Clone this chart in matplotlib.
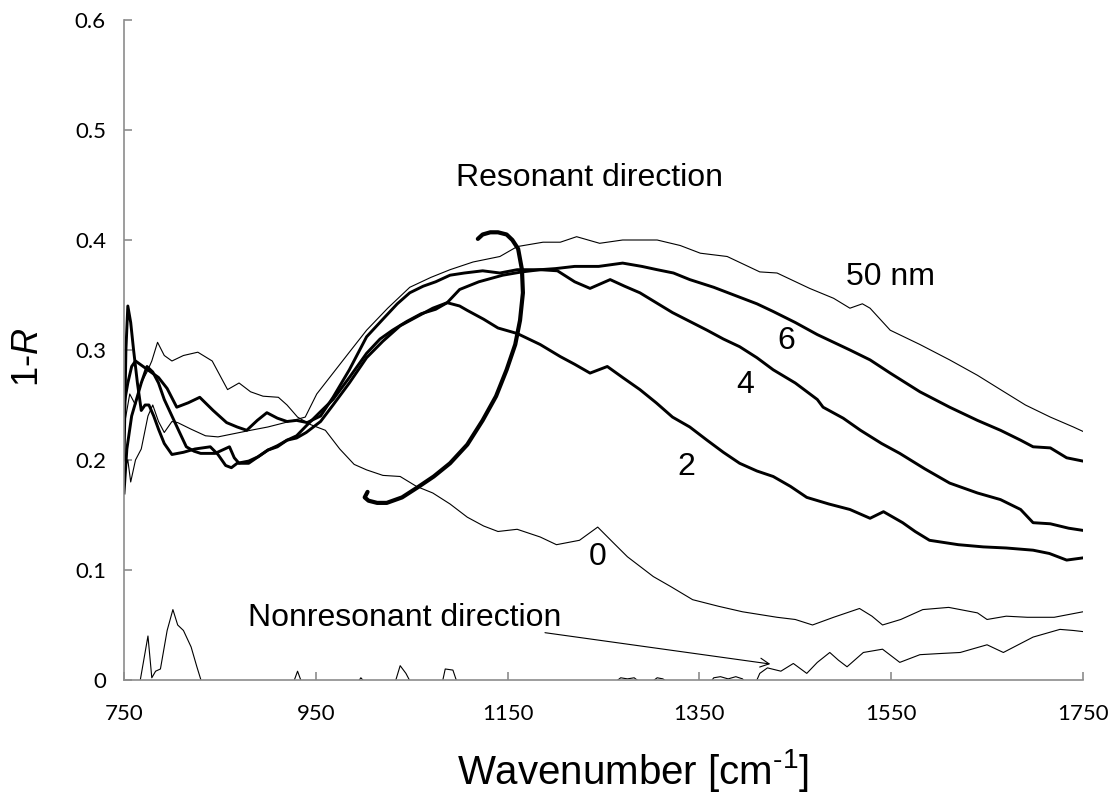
import matplotlib
matplotlib.use("Agg")
from matplotlib import pyplot as plt

# 1-R spectra
x_50 = [750, 754, 757, 762, 768, 775, 780, 786, 792, 800, 806, 820, 835, 848, 865, 882, 900, 918, 939, 951,
        968, 985, 1003, 1025, 1048, 1070, 1090, 1114, 1142, 1160, 1187, 1205, 1222, 1246, 1270, 1306, 1330,
        1351, 1379, 1413, 1431, 1465, 1490, 1507, 1520, 1528, 1549, 1580, 1611, 1640, 1664, 1690, 1716, 1740, 1750]
y_50 = [0.19, 0.2, 0.18, 0.2, 0.21, 0.24, 0.25, 0.235, 0.225, 0.235, 0.234, 0.228, 0.222, 0.221, 0.224, 0.227,
        0.23, 0.234, 0.239, 0.26, 0.279, 0.298, 0.318, 0.338, 0.357, 0.366, 0.373, 0.380, 0.385, 0.394, 0.398,
        0.398, 0.403, 0.397, 0.400, 0.400, 0.395, 0.388, 0.385, 0.371, 0.370, 0.356, 0.347, 0.338, 0.342, 0.338,
        0.318, 0.305, 0.291, 0.277, 0.264, 0.25, 0.239, 0.23, 0.226]

x_6 = [750, 754, 758, 762, 770, 778, 786, 795, 805, 817, 829, 843, 857, 868, 878, 889, 899, 910, 920, 930, 941,
       955, 968, 985, 1003, 1020, 1035, 1048, 1062, 1075, 1090, 1105, 1124, 1142, 1160, 1184, 1200, 1220, 1245,
       1270, 1290, 1306, 1323, 1340, 1365, 1392, 1410, 1427, 1450, 1473, 1490, 1507, 1528, 1549, 1580, 1611,
       1640, 1664, 1685, 1698, 1716, 1733, 1750]
y_6 = [0.25, 0.27, 0.285, 0.29, 0.285, 0.28, 0.275, 0.265, 0.248, 0.252, 0.257, 0.245, 0.234, 0.23, 0.227,
       0.236, 0.243, 0.238, 0.235, 0.236, 0.234, 0.24, 0.257, 0.282, 0.312, 0.328, 0.342, 0.352, 0.358, 0.362,
       0.368, 0.37, 0.372, 0.37, 0.373, 0.373, 0.374, 0.376, 0.376, 0.379, 0.376, 0.373, 0.37, 0.364, 0.357,
       0.348, 0.342, 0.335, 0.325, 0.314, 0.307, 0.300, 0.291, 0.279, 0.262, 0.248, 0.236, 0.227, 0.218, 0.212,
       0.211, 0.202, 0.199]

x_4 = [750, 752, 754, 757, 760, 764, 768, 772, 776, 781, 786, 792, 800, 812, 824, 840, 848, 856, 862, 868, 880,
       890, 900, 910, 920, 930, 940, 955, 968, 985, 1003, 1017, 1030, 1045, 1060, 1075, 1087, 1100, 1120, 1145,
       1165, 1184, 1202, 1220, 1236, 1257, 1272, 1288, 1305, 1322, 1340, 1358, 1375, 1392, 1410, 1427, 1450,
       1473, 1479, 1500, 1518, 1540, 1559, 1585, 1611, 1640, 1664, 1685, 1698, 1716, 1735, 1750]
y_4 = [0.20, 0.30, 0.34, 0.325, 0.30, 0.27, 0.245, 0.25, 0.25, 0.24, 0.228, 0.215, 0.205, 0.207, 0.21, 0.212,
       0.205, 0.195, 0.193, 0.197, 0.199, 0.203, 0.209, 0.213, 0.218, 0.222, 0.231, 0.244, 0.255, 0.275, 0.297,
       0.31, 0.318, 0.326, 0.333, 0.337, 0.343, 0.355, 0.362, 0.368, 0.371, 0.373, 0.372, 0.362, 0.356, 0.364,
       0.358, 0.352, 0.343, 0.334, 0.326, 0.318, 0.31, 0.303, 0.293, 0.282, 0.27, 0.255, 0.248, 0.238, 0.227,
       0.215, 0.206, 0.192, 0.179, 0.17, 0.164, 0.155, 0.143, 0.142, 0.138, 0.136]

x_2 = [750, 753, 758, 763, 768, 774, 780, 786, 792, 800, 808, 815, 823, 830, 845, 855, 860, 865, 870, 880, 890,
       900, 910, 920, 930, 940, 955, 968, 985, 1003, 1020, 1038, 1055, 1072, 1087, 1100, 1108, 1125, 1140, 1160,
       1184, 1205, 1220, 1236, 1254, 1270, 1288, 1305, 1322, 1340, 1358, 1375, 1392, 1410, 1427, 1445, 1462,
       1485, 1507, 1528, 1542, 1562, 1575, 1590, 1620, 1646, 1670, 1698, 1715, 1733, 1750]
y_2 = [0.17, 0.21, 0.24, 0.255, 0.27, 0.285, 0.28, 0.27, 0.255, 0.24, 0.225, 0.212, 0.208, 0.206, 0.206, 0.21,
       0.212, 0.202, 0.197, 0.197, 0.203, 0.209, 0.212, 0.218, 0.22, 0.225, 0.235, 0.25, 0.27, 0.293, 0.308,
       0.322, 0.33, 0.338, 0.343, 0.34, 0.336, 0.328, 0.32, 0.315, 0.305, 0.294, 0.287, 0.279, 0.285, 0.275,
       0.264, 0.252, 0.239, 0.23, 0.218, 0.207, 0.197, 0.19, 0.185, 0.176, 0.166, 0.16, 0.155, 0.147, 0.153,
       0.143, 0.135, 0.127, 0.123, 0.121, 0.12, 0.118, 0.115, 0.109, 0.111]

x_0 = [750, 756, 762, 768, 774, 779, 785, 792, 800, 812, 827, 842, 858, 870, 882, 895, 911, 920, 931, 945, 960,
       975, 990, 1003, 1020, 1038, 1055, 1072, 1090, 1108, 1125, 1140, 1160, 1184, 1201, 1225, 1244, 1260, 1275,
       1302, 1320, 1343, 1370, 1395, 1431, 1450, 1468, 1490, 1517, 1530, 1541, 1560, 1583, 1610, 1640, 1650,
       1670, 1692, 1720, 1750]
y_0 = [0.23, 0.26, 0.25, 0.27, 0.28, 0.29, 0.307, 0.295, 0.29, 0.295, 0.298, 0.29, 0.264, 0.27, 0.262, 0.258,
       0.257, 0.25, 0.239, 0.232, 0.227, 0.21, 0.196, 0.191, 0.186, 0.185, 0.176, 0.170, 0.160, 0.148, 0.14,
       0.135, 0.137, 0.130, 0.123, 0.127, 0.139, 0.125, 0.112, 0.094, 0.085, 0.073, 0.067, 0.062, 0.057, 0.055,
       0.050, 0.057, 0.065, 0.058, 0.050, 0.055, 0.064, 0.066, 0.061, 0.055, 0.058, 0.057, 0.057, 0.062]

# nonresonant direction (goes below zero -> hidden by the axis limit)
x_nr = [750, 766, 770, 775, 779, 783, 788, 795, 801, 806, 812, 820, 826, 832, 900, 926, 931, 936, 990, 994,
        997, 1001, 1030, 1038, 1044, 1050, 1080, 1085, 1093, 1098, 1250, 1262, 1268, 1275, 1282, 1288, 1300,
        1306, 1312, 1318, 1355, 1365, 1372, 1380, 1388, 1395, 1400, 1405, 1413, 1421, 1435, 1448, 1462, 1473,
        1486, 1495, 1504, 1521, 1541, 1559, 1580, 1600, 1622, 1650, 1667, 1698, 1726, 1740, 1750]
y_nr = [-0.02, -0.005, 0.015, 0.04, 0.002, 0.008, 0.01, 0.045, 0.064, 0.05, 0.045, 0.03, 0.012, -0.005, -0.02,
        -0.004, 0.008, -0.004, -0.02, -0.002, 0.002, -0.002, -0.01, 0.013, 0.006, -0.004, -0.01, 0.01, 0.009,
        -0.004, -0.02, -0.002, 0.002, 0.001, 0.002, -0.002, -0.002, 0.002, 0.001, -0.003, -0.01, 0.002, 0.003,
        0.001, 0.003, 0.001, -0.005, -0.01, 0.006, 0.011, 0.008, 0.015, 0.006, 0.016, 0.025, 0.018, 0.012,
        0.025, 0.028, 0.016, 0.023, 0.024, 0.025, 0.032, 0.025, 0.039, 0.046, 0.045, 0.044]

# hand drawn arc marking the resonant direction
x_arc = [1004, 1001, 1005, 1014, 1024, 1040, 1056, 1073, 1090, 1108, 1124, 1138, 1149, 1158, 1163, 1166, 1165,
         1161, 1155, 1149, 1140, 1132, 1124, 1119]
y_arc = [0.171, 0.166, 0.163, 0.161, 0.161, 0.166, 0.175, 0.185, 0.197, 0.214, 0.236, 0.258, 0.282, 0.305,
         0.327, 0.352, 0.373, 0.392, 0.400, 0.405, 0.407, 0.407, 0.405, 0.401]

x_ticks = [750, 950, 1150, 1350, 1550, 1750]
y_ticks = [0, 0.1, 0.2, 0.3, 0.4, 0.5, 0.6]
y_ticklabels = ["0", "0.1", "0.2", "0.3", "0.4", "0.5", "0.6"]

plt.rcParams["font.family"] = "Liberation Sans"
plt.rcParams["mathtext.fontset"] = "custom"
plt.rcParams["mathtext.rm"] = "Liberation Sans"
plt.rcParams["mathtext.it"] = "Liberation Sans:italic"

fig = plt.figure(figsize=(11.13, 7.94), dpi=100)
ax = fig.add_axes([0.1114, 0.1436, 0.8616, 0.8312])

thin = dict(color="black", lw=0.8)
thick = dict(color="black", lw=2.1)
ax.plot(x_50, y_50, **thin)
ax.plot(x_6, y_6, **thick)
ax.plot(x_4, y_4, **thick)
ax.plot(x_2, y_2, **thick)
ax.plot(x_0, y_0, **thin)
ax.plot(x_nr, y_nr, **thin)
ax.plot(x_arc, y_arc, color="black", lw=3.0, solid_capstyle="round", solid_joinstyle="round")

ax.set_xlim(750, 1750)
ax.set_ylim(0, 0.6)
ax.set_xticks(x_ticks)
ax.set_yticks(y_ticks)
ax.set_yticklabels(y_ticklabels)

for s in ["top", "right"]:
    ax.spines[s].set_visible(False)
for s in ["left", "bottom"]:
    ax.spines[s].set_color("#8c8c8c")
    ax.spines[s].set_linewidth(1.2)
ax.tick_params(axis="both", direction="in", length=6, width=1.2, color="#8c8c8c",
               labelsize=16, labelfontfamily="Lato")
ax.tick_params(axis="y", pad=13)
ax.tick_params(axis="x", pad=17)

ax.set_xlabel(r"Wavenumber [cm$^{\text{-1}}$]", fontsize=29)
ax.xaxis.set_label_coords(0.531, -0.137)
ax.xaxis.label.set_va("center")
ax.set_ylabel(r"1-$\mathit{R}$", fontsize=26)
ax.yaxis.set_label_coords(-0.100, 0.489)
ax.yaxis.label.set_va("center")

fs = 23
ax.text(1235, 0.456, "Resonant direction", fontsize=fs, ha="center", va="center")
ax.text(1549, 0.366, "50 nm", fontsize=fs, ha="center", va="center")
ax.text(1441, 0.308, "6", fontsize=fs, ha="center", va="center")
ax.text(1398, 0.268, "4", fontsize=fs, ha="center", va="center")
ax.text(1336, 0.194, "2", fontsize=fs, ha="center", va="center")
ax.text(1244, 0.112, "0", fontsize=fs, ha="center", va="center")
ax.text(879, 0.056, "Nonresonant direction", fontsize=fs, ha="left", va="center")
ax.annotate("", xy=(1424, 0.0145), xytext=(1189, 0.043),
            arrowprops=dict(arrowstyle="->", lw=0.8, color="black", mutation_scale=16,
                            shrinkA=0, shrinkB=0))

fig.savefig("out.png", dpi=100)
